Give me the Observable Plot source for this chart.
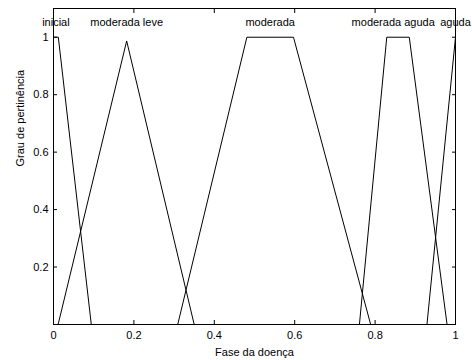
<!DOCTYPE html>
<html>
<head>
<meta charset="utf-8">
<script src="https://cdn.jsdelivr.net/npm/d3@7"></script>
<script src="https://cdn.jsdelivr.net/npm/@observablehq/plot@0.6"></script>
<style>
  body { margin: 0; background: #fff; }
</style>
</head>
<body>
<div id="chart"></div>
<script>
// Membership functions (vertices)
const mfNames = ["inicial", "moderada leve", "moderada", "moderada aguda", "aguda"];
const mfX = [
  [0, 0.012, 0.094],
  [0.0115, 0.182, 0.35],
  [0.309, 0.481, 0.597, 0.789],
  [0.761, 0.829, 0.885, 0.979],
  [0.929, 1]
];
const mfY = [
  [1, 1, 0],
  [0, 0.987, 0],
  [0, 1, 1, 0],
  [0, 1, 1, 0],
  [0, 1]
];
// label anchors (x in data units)
const labelX = [0.006, 0.182, 0.539, 0.845, 1.0];
const labelLevel = 1.05;
const xTicks = [0, 0.2, 0.4, 0.6, 0.8, 1];
const xTickLabels = ["0", "0.2", "0.4", "0.6", "0.8", "1"];
const yTicks = [0.2, 0.4, 0.6, 0.8, 1];
const yTickLabels = ["0.2", "0.4", "0.6", "0.8", "1"];
const xLabel = "Fase da doença";
const yLabel = "Grau de pertinência";

const rows = mfNames.flatMap((name, i) => mfX[i].map((x, j) => ({name, x, y: mfY[i][j]})));
const labels = mfNames.map((name, i) => ({name, x: labelX[i], y: labelLevel}));

const fontFamily = "'Liberation Sans', Arial, Helvetica, sans-serif";

const chart = Plot.plot({
  width: 472,
  height: 360,
  marginLeft: 53,
  marginRight: 17,
  marginTop: 8,
  marginBottom: 36,
  style: {fontFamily, fontSize: "11px", color: "#000", background: "#fff", overflow: "visible"},
  x: {domain: [0, 1]},
  y: {domain: [0, 1.1]},
  marks: [
    Plot.axisX(xTicks, {anchor: "bottom", tickSize: -4, tickPadding: 11, tickFormat: d => xTickLabels[xTicks.indexOf(d)], label: null}),
    Plot.axisX(xTicks, {anchor: "top", tickSize: -4, fill: "none", label: null}),
    Plot.axisY(yTicks, {anchor: "left", tickSize: -4, tickPadding: 9, tickFormat: d => yTickLabels[yTicks.indexOf(d)], label: null}),
    Plot.axisY(yTicks, {anchor: "right", tickSize: -4, fill: "none", label: null}),
    Plot.frame({stroke: "#000", strokeWidth: 1}),
    Plot.line(rows, {x: "x", y: "y", z: "name", stroke: "#000", strokeWidth: 1}),
    Plot.text(labels, {x: "x", y: "y", text: "name", textAnchor: "middle", lineAnchor: "middle", fill: "#000"}),
    Plot.text([xLabel], {frameAnchor: "bottom", dy: 28, lineAnchor: "middle", fill: "#000"}),
    Plot.text([yLabel], {frameAnchor: "left", rotate: -90, dx: -33, lineAnchor: "middle", fill: "#000"})
  ]
});
document.getElementById("chart").append(chart);
</script>
</body>
</html>
